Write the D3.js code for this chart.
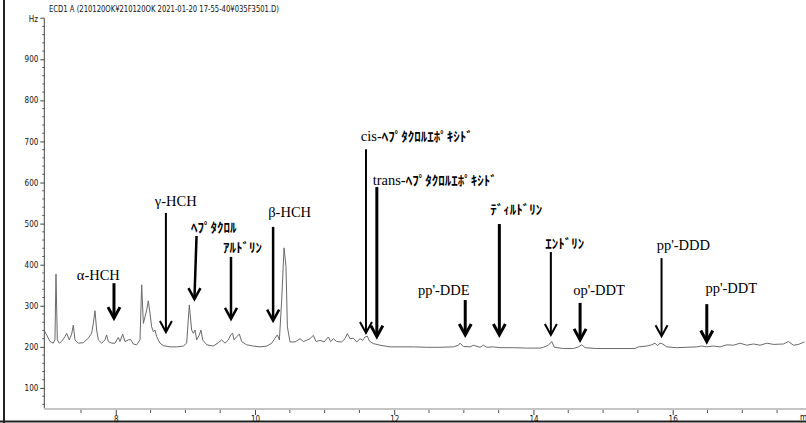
<!DOCTYPE html>
<html><head><meta charset="utf-8">
<script src="https://cdn.jsdelivr.net/npm/d3@7"></script>
<style>
html,body{margin:0;padding:0;background:#fff;overflow:hidden}
svg{display:block}
</style></head><body>
<svg id="c" width="806" height="423"></svg>
<script>
// ---------- data ----------
const headerText = "ECD1 A  (210120OK¥210120OK 2021-01-20 17-55-40¥035F3501.D)";
const yUnit = "Hz";
const xUnit = "min";
const yTickValues = [100, 200, 300, 400, 500, 600, 700, 800, 900];
const xTickValues = [8, 10, 12, 14, 16];

// retention time (min) and detector signal (Hz)
const retentionTime = [
  6.975,7.007,7.055,7.102,7.126,7.141,7.160,7.189,7.222,7.270,7.294,7.332,7.366,7.390,7.414,7.462,
  7.533,7.605,7.653,7.677,7.701,7.725,7.749,7.797,7.845,7.869,7.893,7.941,7.989,8.036,8.060,8.099,
  8.132,8.180,8.214,8.252,8.300,8.348,8.372,8.396,8.420,8.444,8.467,8.491,8.515,8.539,8.563,8.587,
  8.635,8.683,8.779,8.875,8.970,9.018,9.056,9.090,9.114,9.138,9.162,9.200,9.224,9.248,9.306,9.401,
  9.473,9.521,9.569,9.617,9.650,9.679,9.698,9.737,9.775,9.808,9.880,9.976,10.072,10.168,10.240,10.287,
  10.321,10.350,10.383,10.417,10.445,10.465,10.503,10.575,10.647,10.694,10.742,10.790,10.838,10.876,
  10.934,10.991,11.054,11.087,11.125,11.173,11.245,11.293,11.327,11.365,11.413,11.461,11.509,11.547,
  11.580,11.614,11.643,11.700,11.796,11.940,12.083,12.275,12.467,12.658,12.850,12.922,12.945,12.993,
  13.089,13.137,13.233,13.281,13.329,13.424,13.520,13.712,13.903,14.095,14.143,14.214,14.263,14.301,
  14.430,14.574,14.646,14.694,14.741,14.909,15.244,15.460,15.508,15.627,15.699,15.747,15.781,15.819,
  15.857,15.915,16.058,16.202,16.346,16.418,16.490,16.585,16.681,16.777,16.873,16.968,17.064,17.160,
  17.256,17.352,17.448,17.591,17.663,17.735,17.807,17.893
];
const signal = [
  239,229,213,209,217,377,217,209,213,225,233,217,231,253,217,209,
  210,221,233,257,288,241,217,209,217,229,213,209,209,223,213,231,
  213,217,218,207,205,217,351,257,273,290,312,282,249,237,241,225,
  209,203,200,200,202,209,302,241,233,241,217,229,241,217,205,202,
  210,217,209,217,229,233,217,225,231,213,205,202,200,202,209,221,
  229,217,314,441,395,249,212,212,220,213,216,220,228,213,
  216,212,224,213,220,213,212,220,232,220,221,212,220,216,
  224,226,214,208,204,200,200,200,199,199,200,204,209,201,
  200,204,199,204,199,200,198,198,197,197,199,204,213,199,
  196,196,200,205,198,196,196,196,200,202,205,209,203,209,
  207,200,198,199,200,202,200,202,200,205,204,209,204,207,
  204,209,206,207,213,204,206,212
];

// annotated compounds (all in data units: minutes and Hz)
const compoundNames = ["α-HCH","γ-HCH","ﾍﾌﾟﾀｸﾛﾙ","ｱﾙﾄﾞﾘﾝ","β-HCH","cis-ﾍﾌﾟﾀｸﾛﾙｴﾎﾟｷｼﾄﾞ","trans-ﾍﾌﾟﾀｸﾛﾙｴﾎﾟｷｼﾄﾞ","pp'-DDE","ﾃﾞｨﾙﾄﾞﾘﾝ","ｴﾝﾄﾞﾘﾝ","op'-DDT","pp'-DDD","pp'-DDT"];
const compoundRt      = [7.974, 8.72, 9.13, 9.655, 10.26, 11.594, 11.75, 13.02, 13.51, 14.25, 14.67, 15.84, 16.49];
const arrowTopRt      = [7.974, 8.72, 9.16, 9.655, 10.26, 11.594, 11.75, 13.02, 13.51, 14.25, 14.67, 15.84, 16.49];
const arrowTopLevel   = [355, 526, 470, 419, 492, 681, 589, 314, 499, 431, 307, 416, 304];
const arrowTipLevel   = [270, 236, 316, 268, 264, 234, 225, 229, 229, 229, 217, 226, 213];
const labelRt         = [7.44, 8.56, 9.08, 9.54, 10.19, 11.52, 11.69, 12.34, 13.38, 14.17, 14.57, 15.77, 16.47];
const labelLevel      = [363, 542, 479, 431, 516, 701, 594, 326, 523, 440, 326, 437, 332];

// ---------- styles ----------
const arrowWeights = [3, 2, 2.5, 2.5, 2.5, 2, 3, 3, 3, 2, 3, 2, 3];
const smallFont = "'Liberation Sans Narrow','DejaVu Sans Condensed','Liberation Sans',sans-serif";
const serifFont = "'Liberation Serif','DejaVu Serif',serif";
const kanaFont  = "'Noto Sans CJK JP','Noto Sans CJK SC',sans-serif";

// ---------- scales ----------
const x = d3.scaleLinear().domain([6.973, 18]).range([44.3, 811.9]);
const y = d3.scaleLinear().domain([50, 1000]).range([408.5, 18.2]);

const svg = d3.select("#c");

// frame
svg.append("line").attr("x1",4).attr("x2",4).attr("y1",0).attr("y2",423).attr("stroke","#222").attr("stroke-width",2);
svg.append("line").attr("x1",0).attr("x2",806).attr("y1",421.5).attr("y2",421.5).attr("stroke","#222").attr("stroke-width",2);

// header
svg.append("text").attr("x",49).attr("y",12).attr("font-family",smallFont).attr("font-size",9)
  .attr("textLength",230).attr("lengthAdjust","spacingAndGlyphs").attr("fill","#111").text(headerText);

// y axis
const yAxis = d3.axisLeft(y).tickValues(yTickValues).tickSize(4).tickPadding(2);
const gy = svg.append("g").attr("transform","translate(44.3,0)").call(yAxis);
gy.select(".domain").remove();
gy.append("line").attr("x1",0).attr("x2",0).attr("y1",y(1000)).attr("y2",y(50)).attr("stroke","#444");
gy.selectAll(".tick line").attr("stroke","#444");
gy.selectAll(".tick text").attr("font-family",smallFont).attr("font-size",8).attr("fill","#111");
const yMinor = d3.range(60, 1000, 20).filter(v => v % 100 !== 0);
gy.selectAll("line.minor").data(yMinor).join("line").attr("class","minor")
  .attr("x1",-2).attr("x2",0).attr("y1",d=>y(d)).attr("y2",d=>y(d)).attr("stroke","#555");
gy.append("line").attr("x1",-4).attr("x2",0).attr("y1",y(1000)).attr("y2",y(1000)).attr("stroke","#444");
svg.append("text").attr("x",38).attr("y",y(1000)+4).attr("text-anchor","end")
  .attr("font-family",smallFont).attr("font-size",8).attr("fill","#111").text(yUnit);

// x axis
svg.append("line").attr("x1",44.3).attr("x2",806).attr("y1",409).attr("y2",409)
  .attr("stroke","#c4c4c4").attr("stroke-width",2);
const xAxis = d3.axisBottom(x).tickValues(xTickValues).tickSize(5).tickPadding(1).tickFormat(d3.format("d"));
const gx = svg.append("g").attr("transform","translate(0,410)").call(xAxis);
gx.select(".domain").remove();
gx.selectAll(".tick line").attr("stroke","#444");
gx.selectAll(".tick text").attr("font-family",smallFont).attr("font-size",8).attr("fill","#111");
const xMinor = d3.range(7.5, 18, 0.5).filter(t => !xTickValues.includes(t));
gx.selectAll("line.minor").data(xMinor).join("line").attr("class","minor")
  .attr("x1",d=>x(d)).attr("x2",d=>x(d)).attr("y1",0).attr("y2",3).attr("stroke","#555");
svg.append("text").attr("x",800).attr("y",420).attr("font-family",smallFont).attr("font-size",8)
  .attr("fill","#111").text(xUnit);

// trace
const pts = retentionTime.map((t,i)=>[t, signal[i]]);
svg.append("path").datum(pts)
  .attr("fill","none").attr("stroke","#6a6a6a").attr("stroke-width",1)
  .attr("d", d3.line().x(d=>x(d[0])).y(d=>y(d[1])));

// annotations
const isKana = ch => { const c = ch.charCodeAt(0); return c >= 0xFF61 && c <= 0xFF9F; };
function runs(s){
  const out=[]; let cur="", k=null;
  for (const ch of s){ const kk=isKana(ch); if(k===null||kk===k){cur+=ch;k=kk;} else {out.push([cur,k]);cur=ch;k=kk;} }
  if(cur) out.push([cur,k]); return out;
}
compoundNames.forEach((name,i)=>{
  const t = svg.append("text").attr("x",x(labelRt[i])).attr("y",y(labelLevel[i])).attr("fill","#000");
  runs(name).forEach(([s,k])=>{
    t.append("tspan").text(s)
      .attr("font-family", k ? kanaFont : serifFont)
      .attr("font-size", k ? 13 : 14.5)
      .attr("font-weight", k ? 700 : 400);
  });
  const xt = x(compoundRt[i]), yt = y(arrowTipLevel[i]);
  svg.append("line").attr("x1",x(arrowTopRt[i])).attr("y1",y(arrowTopLevel[i]))
    .attr("x2",xt).attr("y2",yt-1).attr("stroke","#000").attr("stroke-width",arrowWeights[i]);
  svg.append("path").attr("d",`M${xt-6},${yt-11}L${xt},${yt}L${xt+6},${yt-11}`)
    .attr("fill","none").attr("stroke","#000").attr("stroke-width",arrowWeights[i]);
});
</script>
</body></html>
